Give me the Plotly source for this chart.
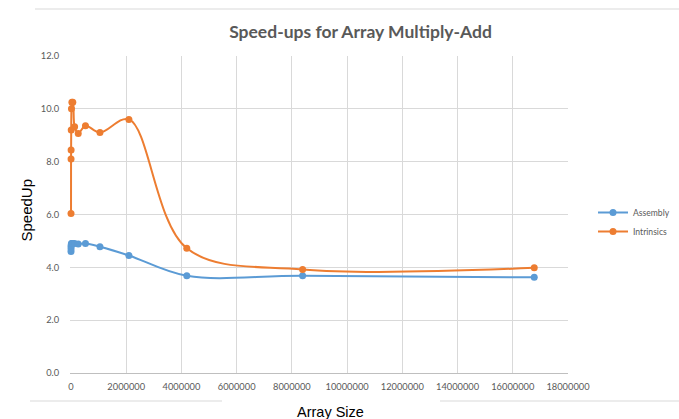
import plotly.graph_objects as go

# Data
array_sizes = [1024, 2048, 4096, 8192, 16384, 32768, 65536, 131072, 262144,
               524288, 1048576, 2097152, 4194304, 8388608, 16777216]
assembly = [4.60, 4.70, 4.80, 4.85, 4.90, 4.90, 4.90, 4.90, 4.88,
            4.90, 4.78, 4.45, 3.68, 3.68, 3.62]
intrinsics = [6.04, 8.10, 8.44, 9.20, 10.00, 10.25, 10.25, 9.32, 9.07,
              9.36, 9.10, 9.60, 4.72, 3.92, 3.98]

x_ticks = [0, 2000000, 4000000, 6000000, 8000000, 10000000, 12000000,
           14000000, 16000000, 18000000]
y_ticks = [0, 2, 4, 6, 8, 10, 12]

W, H = 679, 419
L, R, T, B = 70, 111, 56, 46
pw, ph = W - L - R, H - T - B

def px(x):
    return (x - L) / pw

def py(y):
    return (H - B - y) / ph

BLUE = "#5B9BD5"
ORANGE = "#ED7D31"
GRID = "#D9D9D9"
TXT = "#595959"

fig = go.Figure()
fig.add_trace(go.Scatter(
    x=array_sizes, y=assembly, name="Assembly", mode="lines+markers",
    line=dict(color=BLUE, width=2, shape="spline", smoothing=1.0),
    marker=dict(color=BLUE, size=7), cliponaxis=False))
fig.add_trace(go.Scatter(
    x=array_sizes, y=intrinsics, name="Intrinsics", mode="lines+markers",
    line=dict(color=ORANGE, width=2, shape="spline", smoothing=1.0),
    marker=dict(color=ORANGE, size=7), cliponaxis=False))

fig.update_layout(
    width=W, height=H,
    margin=dict(l=L, r=R, t=T, b=B, pad=0, autoexpand=False),
    paper_bgcolor="white", plot_bgcolor="white",
    font=dict(family="Lato, Liberation Sans, sans-serif", color=TXT, size=9.3),
    title=dict(text="<b>Speed-ups for Array Multiply-Add</b>",
               x=360.5 / W, xanchor="center", y=1 - 32 / H, yanchor="middle",
               font=dict(family="Lato, sans-serif", size=17.5, color=TXT)),
    showlegend=True,
    legend=dict(x=px(593), xanchor="left", y=py(222), yanchor="middle",
                font=dict(family="Lato, sans-serif", size=8.6, color=TXT),
                itemwidth=30, tracegroupgap=4, bgcolor="rgba(0,0,0,0)"),
    xaxis=dict(range=[-36000, 18000000], tickvals=x_ticks,
               ticktext=[str(v) for v in x_ticks],
               showgrid=True, gridcolor=GRID, gridwidth=1,
               zeroline=False, showline=True, linecolor="#BFBFBF",
               ticks="outside", ticklen=5, tickcolor="rgba(0,0,0,0)",
               fixedrange=True),
    yaxis=dict(range=[0, 12], tickvals=y_ticks,
               ticktext=[f"{v:.1f}" for v in y_ticks],
               showgrid=True, gridcolor=GRID, gridwidth=1,
               zeroline=False, showline=False,
               ticks="outside", ticklen=8, tickcolor="rgba(0,0,0,0)",
               fixedrange=True),
    annotations=[
        dict(text="SpeedUp", x=px(25.5), y=py(210), xref="paper", yref="paper",
             textangle=-90, showarrow=False, xanchor="center", yanchor="middle",
             font=dict(family="Liberation Sans, Arial, sans-serif", size=15, color="black")),
        dict(text="Array Size", x=px(330), y=py(412), xref="paper", yref="paper",
             showarrow=False, xanchor="center", yanchor="middle",
             font=dict(family="Liberation Sans, Arial, sans-serif", size=14.5, color="black")),
    ],
    shapes=[
        dict(type="line", xref="paper", yref="paper", x0=px(35), x1=px(679),
             y0=py(9), y1=py(9), line=dict(color=GRID, width=1)),
        dict(type="line", xref="paper", yref="paper", x0=px(30), x1=px(222),
             y0=py(401), y1=py(401), line=dict(color=GRID, width=1)),
        dict(type="line", xref="paper", yref="paper", x0=px(440), x1=px(679),
             y0=py(401), y1=py(401), line=dict(color=GRID, width=1)),
    ],
)

fig.write_html("out.html")
